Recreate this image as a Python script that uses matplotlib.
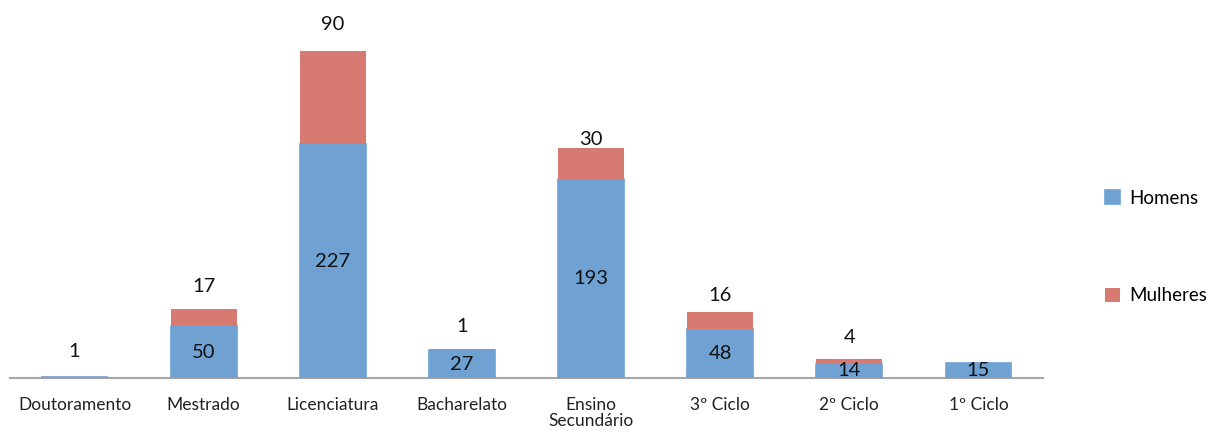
import matplotlib
import matplotlib.pyplot as plt
import numpy as np

matplotlib.use('Agg')
plt.rcParams['font.family'] = ['Lato', 'DejaVu Sans']

CATEGORIES: list[str] = ['Doutoramento', 'Mestrado', 'Licenciatura', 'Bacharelato',
                         'Ensino\nSecundário', '3º Ciclo', '2º Ciclo', '1º Ciclo']
HOMENS: list[int] = [1, 50, 227, 27, 193, 48, 14, 15]
MULHERES: list[int] = [0, 17, 90, 1, 30, 16, 4, 0]
# label shown above the bar (Doutoramento only shows its single value up top)
TOP_LABELS: list[str] = ['1', '17', '90', '1', '30', '16', '4', '']
SHOW_INSIDE: list[bool] = [False, True, True, True, True, True, True, True]
# how far (points) each top label sits above its bar
TOP_PAD: list[float] = [18, 16, 19, 16, 6, 12, 16, 0]

BLUE = '#6FA2D3'
RED = '#D77B72'

fig = plt.figure(figsize=(12.13, 4.32), dpi=100)
ax = fig.add_axes([10 / 1213, 54 / 432, 1033 / 1213, 368 / 432])

x = np.arange(len(CATEGORIES))
homens = np.array(HOMENS)
mulheres = np.array(MULHERES)
width = 0.51

ax.bar(x, homens, width, color=BLUE, edgecolor=BLUE, linewidth=1.2, label='Homens', zorder=3)
ax.bar(x, mulheres, width, bottom=homens, color=RED, label='Mulheres', zorder=3)

for i in range(len(x)):
    if SHOW_INSIDE[i]:
        ax.text(x[i], homens[i] / 2, str(homens[i]), ha='center', va='center', fontsize=14.5,
                color='#111111', zorder=4)
    if TOP_LABELS[i]:
        ax.annotate(TOP_LABELS[i], (x[i], homens[i] + mulheres[i]), xytext=(0, TOP_PAD[i]),
                    textcoords='offset points', ha='center', va='center', fontsize=14.5, color='#111111')

ax.set_xlim(-0.5, len(x) - 0.5)
ax.set_ylim(0, 357)
ax.set_xticks(x)
ax.set_xticklabels(CATEGORIES, fontsize=12.5, color='#222222', linespacing=0.95)
ax.tick_params(axis='x', length=0, pad=14)
ax.set_yticks([])
for side in ['left', 'right', 'top']:
    ax.spines[side].set_visible(False)
ax.spines['bottom'].set_color('#A6A6A6')
ax.spines['bottom'].set_linewidth(1.5)
ax.spines['bottom'].set_zorder(2)

fig.legend(loc='center left', bbox_to_anchor=(1088 / 1213, 185 / 432), frameon=False, fontsize=13.5,
           handlelength=0.8, handleheight=0.8, handletextpad=0.5, labelspacing=4.3)

fig.savefig('out.png', dpi=100)
